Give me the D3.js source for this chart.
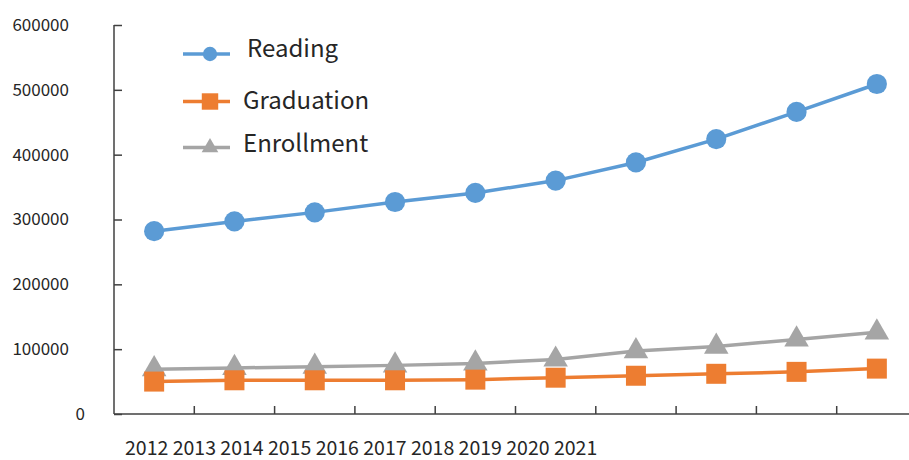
<!DOCTYPE html>
<html><head><meta charset="utf-8">
<script src="https://cdn.jsdelivr.net/npm/d3@7"></script>
<style>body{margin:0;background:#fff}svg{display:block}</style>
</head><body><svg id="c" width="909" height="460"></svg>
<script>
const years = ["2012","2013","2014","2015","2016","2017","2018","2019","2020","2021"];
const reading = [282000, 297000, 311000, 327000, 341000, 360000, 388000, 424000, 466000, 509000];
const graduation = [50000, 52000, 52000, 52000, 53000, 56000, 59000, 62000, 65000, 70000];
const enrollment = [69000, 71000, 73000, 75000, 78000, 84000, 97000, 104000, 115000, 126000];
const yTicks = [0, 100000, 200000, 300000, 400000, 500000, 600000];
const seriesNames = ["Reading", "Graduation", "Enrollment"];

const font = "'Noto Sans CJK SC','Noto Sans',sans-serif";
const svg = d3.select("#c");
const x = d3.scaleBand().domain(years).range([114, 917]);
const y = d3.scaleLinear().domain([0, 600000]).range([414, 25]);
const axisCol = "#404040";

// y axis
const gy = svg.append("g").attr("transform", "translate(114,0)")
  .call(d3.axisRight(y).tickValues(yTicks).tickSize(8).tickFormat(""));
gy.select(".domain").attr("stroke", axisCol).attr("stroke-width", 1.5).attr("d", "M0,25V414");
gy.selectAll(".tick line").attr("stroke", axisCol).attr("stroke-width", 1.5);
svg.append("g").selectAll("text").data(yTicks).join("text")
  .attr("x", d => d === 0 ? 85 : 69).attr("y", d => y(d))
  .attr("dy", "0.35em").attr("text-anchor", "end")
  .attr("font-family", font).attr("font-size", 17).attr("fill", "#262626")
  .text(d => d);

// x axis
const gx = svg.append("g").attr("transform", "translate(0,414)");
gx.append("line").attr("x1", 114).attr("x2", 917).attr("stroke", axisCol).attr("stroke-width", 1.5);
gx.selectAll("line.t").data(years.slice(1)).join("line").attr("class", "t")
  .attr("x1", d => x(d)).attr("x2", d => x(d)).attr("y1", 0).attr("y2", -8)
  .attr("stroke", axisCol).attr("stroke-width", 1.5);
svg.append("text").attr("x", 125).attr("y", 455)
  .attr("font-family", font).attr("font-size", 19.5).attr("fill", "#262626")
  .attr("xml:space", "preserve").style("white-space", "pre")
  .text(years.join(" "));

const cx = d => x(d) + x.bandwidth() / 2;
const defs = [
  {name: seriesNames[0], data: reading, color: "#5B9BD5", sym: d3.symbolCircle, size: 320, lsize: 160},
  {name: seriesNames[1], data: graduation, color: "#ED7D31", sym: d3.symbolSquare, size: 400, lsize: 270},
  {name: seriesNames[2], data: enrollment, color: "#A5A5A5", sym: d3.symbolTriangle, size: 260, lsize: 120}
];
const line = d3.line().x(d => cx(d.k)).y(d => y(d.v));
[defs[2], defs[1], defs[0]].forEach(s => {
  const pts = years.map((k, i) => ({k, v: s.data[i]}));
  svg.append("path").datum(pts).attr("d", line).attr("fill", "none")
    .attr("stroke", s.color).attr("stroke-width", 3.5);
  svg.append("g").selectAll("path").data(pts).join("path")
    .attr("transform", d => `translate(${cx(d.k)},${y(d.v)})`)
    .attr("d", d3.symbol().type(s.sym).size(s.size)).attr("fill", s.color);
});

// legend
const ly = [54, 101.5, 147.5];
const lb = [57, 109, 152];
const lx = [247, 243, 243];
defs.forEach((s, i) => {
  const g = svg.append("g");
  g.append("line").attr("x1", 183).attr("x2", 230).attr("y1", ly[i]).attr("y2", ly[i])
    .attr("stroke", s.color).attr("stroke-width", 3.5);
  g.append("path").attr("transform", `translate(210,${ly[i]})`)
    .attr("d", d3.symbol().type(s.sym).size(s.lsize)).attr("fill", s.color);
  g.append("text").attr("x", lx[i]).attr("y", lb[i])
    .attr("font-family", font).attr("font-size", 24).attr("fill", "#262626").text(s.name);
});
</script></body></html>
